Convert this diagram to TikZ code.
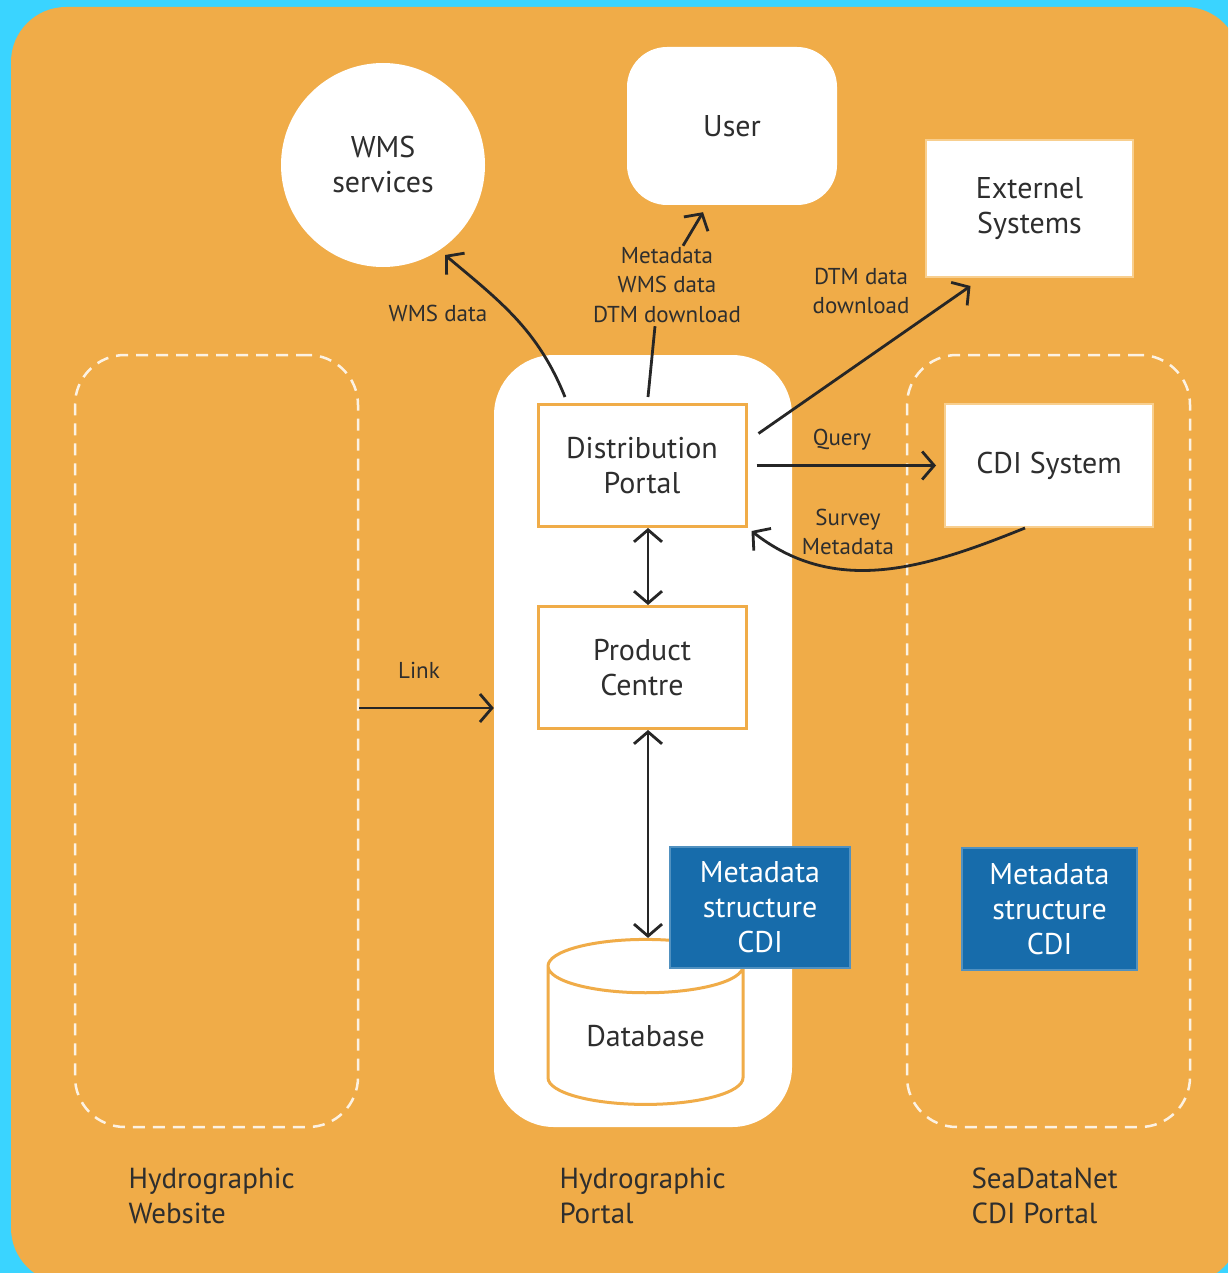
\documentclass[tikz,border=0pt]{standalone}
\usepackage{fontspec}
\setmainfont{PT Sans}
\usetikzlibrary{arrows.meta,shapes.geometric}

\definecolor{bgcyan}{HTML}{3AD4FF}
\definecolor{panelorange}{HTML}{F0AC48}
\definecolor{edgeorange}{HTML}{F8CF8F}
\definecolor{cdiblue}{HTML}{176CAB}
\definecolor{txtgray}{HTML}{2E2E2E}

\begin{document}
\begin{tikzpicture}[x=1pt, y=-1pt,
	every node/.style={text=txtgray, align=center, font=\fontsize{30}{35}\selectfont},
	zone/.style={draw=white, draw opacity=0.85, line width=2.5pt, dash pattern=on 12pt off 8pt,
		rounded corners=50pt, minimum width=283pt, minimum height=772pt},
	whitebox/.style={draw=edgeorange, line width=2pt, fill=white, inner sep=0pt},
	portalbox/.style={draw=panelorange, line width=3pt, fill=white, inner sep=0pt,
		minimum width=208pt, minimum height=122pt},
	bluebox/.style={fill=cdiblue, draw=cdiblue!75!white, line width=1.5pt, text=white, inner sep=0pt},
	flowlabel/.style={font=\fontsize{23}{29.5}\selectfont},
	arealabel/.style={anchor=west, align=left, font=\fontsize{29}{35}\selectfont},
	flow/.style={draw=black!85, line width=2.8pt, -{Straight Barb[length=12pt, width=28pt]}},
	twoway/.style={flow, {Straight Barb[length=12pt, width=28pt]}-{Straight Barb[length=12pt, width=28pt]}}]
	% Hintergrund
	\useasboundingbox (0,0) rectangle (1228,1273);
	\clip (0,0) rectangle (1228,1273);
	\fill[bgcyan] (0,0) rectangle (1228,1273);
	\fill[panelorange, rounded corners=55pt] (11,7) rectangle (1240,1283);
	% Bereiche
	\node[zone] (website) at (216.5,741) {};
	\node[fill=white, rounded corners=60pt, minimum width=298pt, minimum height=772pt] (portal) at (643,741) {};
	\node[zone] (seadatanet) at (1048.5,741) {};
	\node[arealabel] (websitelbl) at (125,1196) {Hydrographic\\Website};
	\node[arealabel] (portallbl) at (556,1196) {Hydrographic\\Portal};
	\node[arealabel] (seadatanetlbl) at (968,1196) {SeaDataNet\\CDI Portal};
	% Knoten
	\node[circle, fill=white, minimum size=204pt, inner sep=0pt] (wms) at (383,165) {WMS\\services};
	\node[fill=white, rounded corners=40pt, minimum width=210pt, minimum height=158pt] (user) at (732,126) {User};
	\node[whitebox, minimum width=207pt, minimum height=137pt] (ext) at (1029.5,208.5) {Externel\\Systems};
	\node[portalbox] (dist) at (642,465.5) {Distribution\\Portal};
	\node[portalbox] (prod) at (642,667.5) {Product\\Centre};
	\node[whitebox, minimum width=208pt, minimum height=123pt] (cdi) at (1049,465.5) {CDI System};
	\node[cylinder, shape border rotate=90, aspect=0.45, draw=panelorange, line width=3pt, fill=white,
		minimum width=195pt, minimum height=165pt, inner sep=0pt] (db) at (645.5,1036) {Database};
	\node[bluebox, minimum width=180pt, minimum height=121pt] (metaportal) at (760,907.5) {Metadata\\structure\\CDI};
	\node[bluebox, minimum width=175pt, minimum height=122pt] (metacdi) at (1049.5,909) {Metadata\\structure\\CDI};
	% Beschriftungen
	\node[flowlabel] (wmslbl) at (438,313) {WMS data};
	\node[flowlabel] (userlbl) at (667,285) {Metadata\\WMS data\\DTM download};
	\node[flowlabel] (dtmlbl) at (861,291) {DTM data\\download};
	\node[flowlabel] (querylbl) at (842,440) {Query};
	\node[flowlabel] (surveylbl) at (848,532) {Survey\\Metadata};
	\node[flowlabel] (linklbl) at (419,670) {Link};
	% Pfeile
	\draw[flow] ([xshift=-77pt,yshift=6pt]dist.north) to[out=112, in=-40] ([xshift=62pt,yshift=-90pt]wms.center);
	\draw[flow, -] ([xshift=6pt,yshift=6pt]dist.north) -- ([xshift=-12pt]userlbl.south);
	\draw[flow] ([xshift=16pt,yshift=-2pt]userlbl.north) -- ([xshift=-29pt,yshift=-7pt]user.south);
	\draw[flow] ([xshift=11pt,yshift=32pt]dist.east) -- ([xshift=-59pt,yshift=-8pt]ext.south);
	\draw[flow] ([xshift=9pt]dist.east) -- ([xshift=-8pt]cdi.west);
	\draw[flow] ([xshift=-24pt]cdi.south) to[out=-158, in=-38] ([xshift=4pt,yshift=-3pt]dist.south east);
	\draw[twoway] ([xshift=6pt]dist.south) -- ([xshift=6pt]prod.north);
	\draw[twoway] ([xshift=6pt]prod.south) -- ([xshift=2.5pt]db.north);
	\draw[flow] ([yshift=33pt]website.east) -- ([yshift=33pt]portal.west);
\end{tikzpicture}
\end{document}
